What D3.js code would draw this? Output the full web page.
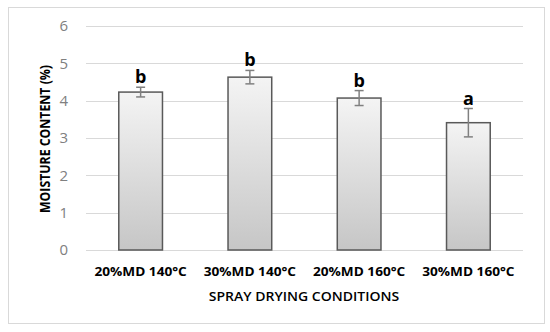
<!DOCTYPE html>
<html>
<head>
<meta charset="utf-8">
<script src="https://cdn.jsdelivr.net/npm/d3@7"></script>
<style>
  body { margin: 0; background: #fff; }
  text { font-family: "Open Sans", sans-serif; }
</style>
</head>
<body>
<div id="viz"></div>
<script>
// data
const conditions = ["20%MD 140°C", "30%MD 140°C", "20%MD 160°C", "30%MD 160°C"];
const moisture = [4.23, 4.63, 4.07, 3.41];
const errors = [0.13, 0.18, 0.2, 0.38];
const letters = ["b", "b", "b", "a"];
const yTicks = [0, 1, 2, 3, 4, 5, 6];

const width = 550, height = 332;
const svg = d3.select("#viz").append("svg")
    .attr("width", width)
    .attr("height", height);

// outer chart frame
svg.append("rect")
    .attr("x", 8.5).attr("y", 7.5)
    .attr("width", 536).attr("height", 316)
    .attr("fill", "#fff")
    .attr("stroke", "#d9d9d9");

const defs = svg.append("defs");
const grad = defs.append("linearGradient")
    .attr("id", "barGrad")
    .attr("x1", 0).attr("y1", 0).attr("x2", 0).attr("y2", 1);
grad.append("stop").attr("offset", "0%").attr("stop-color", "#f4f4f4");
grad.append("stop").attr("offset", "100%").attr("stop-color", "#c6c6c6");

const x = d3.scaleBand()
    .domain(conditions)
    .range([86, 523])
    .paddingInner(0.6)
    .paddingOuter(0.3);

const y = d3.scaleLinear()
    .domain([0, 6])
    .range([250, 26]);

// gridlines
svg.append("g")
    .selectAll("line")
    .data(yTicks)
    .enter()
    .append("line")
    .attr("x1", 86).attr("x2", 523)
    .attr("y1", d => Math.round(y(d)) + 0.5)
    .attr("y2", d => Math.round(y(d)) + 0.5)
    .attr("stroke", "#d9d9d9")
    .attr("stroke-width", 1);

// y axis labels
const yAxis = d3.axisLeft(y).tickValues(yTicks).tickFormat(d3.format("d")).tickSize(0).tickPadding(0);
svg.append("g")
    .attr("transform", "translate(68,0)")
    .call(yAxis)
    .call(g => g.select(".domain").remove())
    .call(g => g.selectAll("text")
        .attr("fill", "#808080")
        .style("font-size", "15px")
        .style("font-family", "'Open Sans', sans-serif"));

// bars
svg.selectAll("rect.bar")
    .data(moisture)
    .enter()
    .append("rect")
    .attr("class", "bar")
    .attr("x", (d, i) => x(conditions[i]))
    .attr("y", d => y(d))
    .attr("width", x.bandwidth())
    .attr("height", d => y(0) - y(d))
    .attr("fill", "url(#barGrad)")
    .attr("stroke", "#595959")
    .attr("stroke-width", 1.5);

// error bars
const eb = svg.append("g").attr("stroke", "#808080").attr("stroke-width", 1.5);
moisture.forEach((v, i) => {
    const cx = x(conditions[i]) + x.bandwidth() / 2;
    const top = y(v + errors[i]), bot = y(v - errors[i]);
    eb.append("line").attr("x1", cx).attr("x2", cx).attr("y1", top).attr("y2", bot);
    eb.append("line").attr("x1", cx - 4.5).attr("x2", cx + 4.5).attr("y1", top).attr("y2", top);
    eb.append("line").attr("x1", cx - 4.5).attr("x2", cx + 4.5).attr("y1", bot).attr("y2", bot);
});

// significance letters
svg.selectAll("text.letter")
    .data(letters)
    .enter()
    .append("text")
    .attr("class", "letter")
    .attr("x", (d, i) => x(conditions[i]) + x.bandwidth() / 2)
    .attr("y", (d, i) => y(moisture[i] + errors[i]) - 4)
    .attr("text-anchor", "middle")
    .style("font-size", "18px")
    .style("font-weight", "bold")
    .attr("fill", "#000")
    .text(d => d);

// x labels (the source image is a bit stretched horizontally)
svg.append("g")
    .selectAll("text")
    .data(conditions)
    .enter()
    .append("text")
    .attr("transform", d => `translate(${x(d) + x.bandwidth() / 2},276) scale(1.05,1)`)
    .attr("text-anchor", "middle")
    .style("font-size", "13px")
    .style("font-weight", "bold")
    .attr("fill", "#000")
    .text(d => d);

// axis titles
svg.append("text")
    .attr("transform", "translate(304,301) scale(1.17,1)")
    .attr("text-anchor", "middle")
    .style("font-size", "12px")
    .style("font-weight", "600")
    .attr("fill", "#000")
    .text("SPRAY DRYING CONDITIONS");

svg.append("text")
    .attr("transform", "translate(50,139) scale(1.22,1) rotate(-90)")
    .attr("text-anchor", "middle")
    .style("font-size", "12.3px")
    .style("font-weight", "bold")
    .attr("fill", "#000")
    .text("MOISTURE CONTENT (%)");
</script>
</body>
</html>
